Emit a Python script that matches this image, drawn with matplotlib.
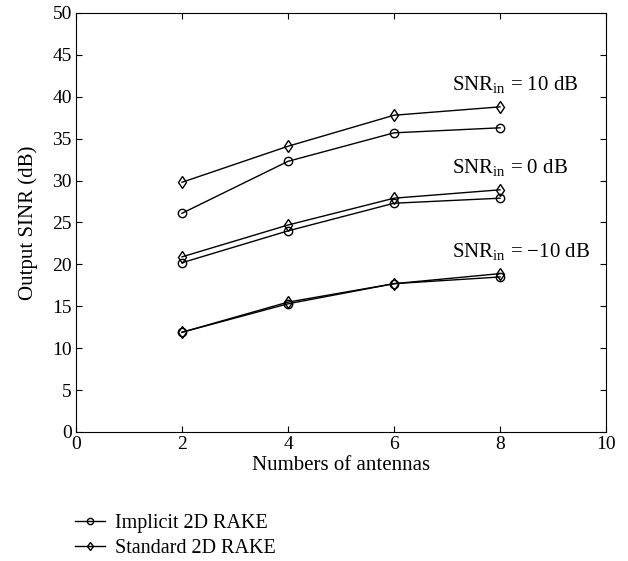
import matplotlib
matplotlib.use("Agg")
import matplotlib.pyplot as plt

# antenna counts
antennas = [2, 4, 6, 8]

# output SINR (dB) for each input SNR
implicit_10 = [26.1, 32.3, 35.7, 36.3]
standard_10 = [29.8, 34.1, 37.8, 38.8]
implicit_0 = [20.2, 24.0, 27.3, 27.9]
standard_0 = [20.9, 24.7, 27.9, 28.9]
implicit_m10 = [11.9, 15.3, 17.7, 18.5]
standard_m10 = [11.9, 15.5, 17.7, 18.9]

snr_labels = [r"SNR$_{\mathrm{in}}$ = 10 dB", r"SNR$_{\mathrm{in}}$ = 0 dB",
              r"SNR$_{\mathrm{in}}$ = $-$10 dB"]
snr_label_y = [41.4, 31.5, 21.4]

plt.rcParams['font.family'] = ['Liberation Serif', 'DejaVu Serif']
plt.rcParams['mathtext.fontset'] = 'custom'
plt.rcParams['mathtext.rm'] = 'Liberation Serif'
plt.rcParams['font.size'] = 14

fig = plt.figure(figsize=(6.28, 5.61), dpi=100)
ax = fig.add_axes([76 / 628, 1 - 432 / 561, 530 / 628, 419 / 561])

style = dict(color='black', lw=1.0, markersize=6, markerfacecolor='none',
             markeredgecolor='black', markeredgewidth=1.0)

for imp, std in [(implicit_10, standard_10), (implicit_0, standard_0),
                 (implicit_m10, standard_m10)]:
    l1, = ax.plot(antennas, imp, marker='o', **style)
    l2, = ax.plot(antennas, std, marker='d', **style)

for lab, y in zip(snr_labels, snr_label_y):
    ax.text(7.1, y, lab, ha='left', va='center', fontsize=15)

ax.set_xlim(0, 10)
ax.set_ylim(0, 50)
ax.set_xticks(range(0, 11, 2))
ax.set_yticks(range(0, 51, 5))
ax.tick_params(direction='in', top=True, right=True, length=4, width=0.8,
               labelsize=14, pad=3)
ax.set_xlabel('Numbers of antennas', fontsize=15, labelpad=2)
ax.set_ylabel('Output SINR (dB)', fontsize=15, labelpad=10)

fig.legend([l1, l2], ['Implicit 2D RAKE', 'Standard 2D RAKE'],
           loc='upper left', bbox_to_anchor=(75 / 628, 1 - 514 / 561),
           frameon=False, handlelength=1.5, handletextpad=0.5,
           labelspacing=0.3, borderpad=0, borderaxespad=0, fontsize=14.5,
           markerscale=0.75)

fig.savefig('out.png', dpi=100)
